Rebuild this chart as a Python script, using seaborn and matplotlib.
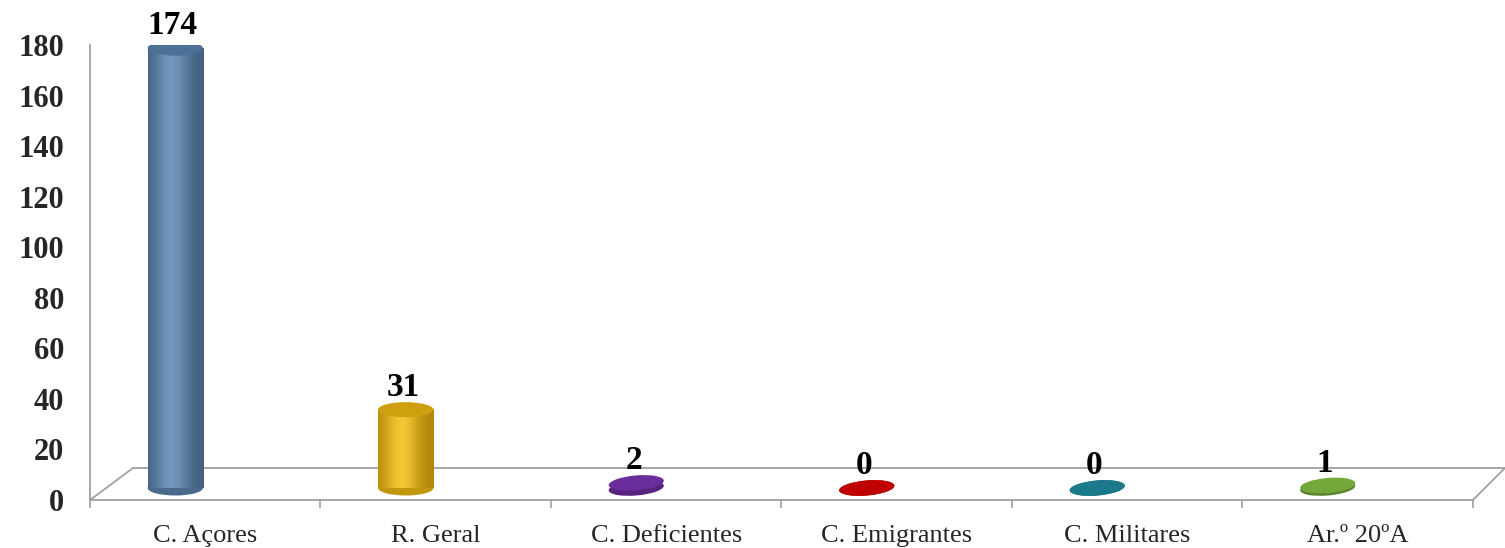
import numpy as np
import pandas as pd
import seaborn as sns
import matplotlib.pyplot as plt
from matplotlib.patches import Ellipse
from matplotlib.lines import Line2D
from matplotlib.transforms import ScaledTranslation
from matplotlib.colors import to_rgb

categories = ['C. Açores', 'R. Geral', 'C. Deficientes', 'C. Emigrantes', 'C. Militares', 'Ar.º 20ºA']
counts = [174, 31, 2, 0, 0, 1]
colors = ['#5b84b0', '#f2bb10', '#6b2c9c', '#c00000', '#1b7a8a', '#74a83a']
yticks = list(range(0, 181, 20))

df = pd.DataFrame({'categoria': categories, 'n': counts})

sns.set_style('white')
plt.rcParams['font.family'] = ['Liberation Serif', 'DejaVu Serif']

W, H = 1505, 548
fig = plt.figure(figsize=(W / 100, H / 100), dpi=100)
ax = fig.add_axes([90 / W, 48 / H, 1383 / W, 455 / H])
ax.patch.set_visible(False)

sns.barplot(data=df, x='categoria', y='n', hue='categoria', palette=colors,
            width=0.24, saturation=1, legend=False, ax=ax)

# fake 3d: bars stand in the middle of the floor, shifted up/left
shift = ScaledTranslation(-0.30, 0.12, fig.dpi_scale_trans)
tr = ax.transData + shift
ell_h = 0.15  # ellipse height, inches


def cap(x, y, w_data, angle, color, z):
    # ellipse sized in inches, centred on a data point
    w_in = w_data * 1383 / 6 / 100
    e = Ellipse((0, 0), w_in, ell_h, angle=angle, facecolor=color, edgecolor='none',
                transform=fig.dpi_scale_trans + ScaledTranslation(x, y, tr), zorder=z)
    ax.add_artist(e)


bars = list(ax.patches)
for p, col, v in zip(bars, colors, counts):
    x0, w = p.get_x(), p.get_width()
    cx = x0 + w / 2
    base = np.array(to_rgb(col))
    p.set_visible(False)
    flat = v <= 2
    ang = 5 if flat else 0
    cap(cx, 0, w, ang, np.clip(base * 0.8, 0, 1), 2)
    if not flat:
        t = np.linspace(0, 1, 120)
        light = np.exp(-((t - 0.42) / 0.3) ** 2)
        shade = base[None, :] * (0.72 + 0.28 * light[:, None])
        grad = shade * (1 - 0.15 * light[:, None]) + 0.15 * light[:, None]
        ax.imshow(grad[None, :, :], extent=[x0, x0 + w, 0, v], aspect='auto',
                  transform=tr, zorder=2.5, interpolation='bilinear')
    top_col = base * 0.85 if not flat else base
    cap(cx, v, w, ang, np.clip(top_col, 0, 1), 3)
    ax.annotate(str(v), xy=(cx, v), xycoords=tr, xytext=(-2, 5),
                textcoords='offset points', ha='center', va='bottom',
                fontsize=24, fontweight='bold', color='black', zorder=5)

ax.set_xlim(-0.5, len(categories) - 0.5)
ax.set_ylim(0, 180)
ax.set_yticks(yticks)
ax.set_xlabel('')
ax.set_ylabel('')

for s in ['top', 'right']:
    ax.spines[s].set_visible(False)
for s in ['left', 'bottom']:
    ax.spines[s].set_color('#a0a0a0')
    ax.spines[s].set_linewidth(1.3)

ax.tick_params(axis='y', which='major', direction='out', length=6.5, width=1.2,
               color='#a0a0a0', pad=12, labelsize=22)
for lab in ax.get_yticklabels():
    lab.set_fontweight('bold')
ax.set_xticks(range(len(categories)))
ax.set_xticklabels(categories)
ax.set_xticks(np.arange(-0.5, len(categories)), minor=True)
ax.tick_params(axis='x', which='major', length=0, pad=18, labelsize=19)
ax.tick_params(axis='x', which='minor', direction='out', length=6, width=1.2,
               color='#a0a0a0', bottom=True)

# floor of the 3d box, drawn behind the axes content
floor_col = '#a0a0a0'
floor = [([90, 133], [500, 468]), ([133, 1505], [468, 468]), ([1473, 1505], [500, 468])]
for xs, ys in floor:
    fig.add_artist(Line2D([x / W for x in xs], [1 - y / H for y in ys],
                          transform=fig.transFigure, color=floor_col, lw=1.3, zorder=-1))

fig.savefig('out.png', dpi=100)
